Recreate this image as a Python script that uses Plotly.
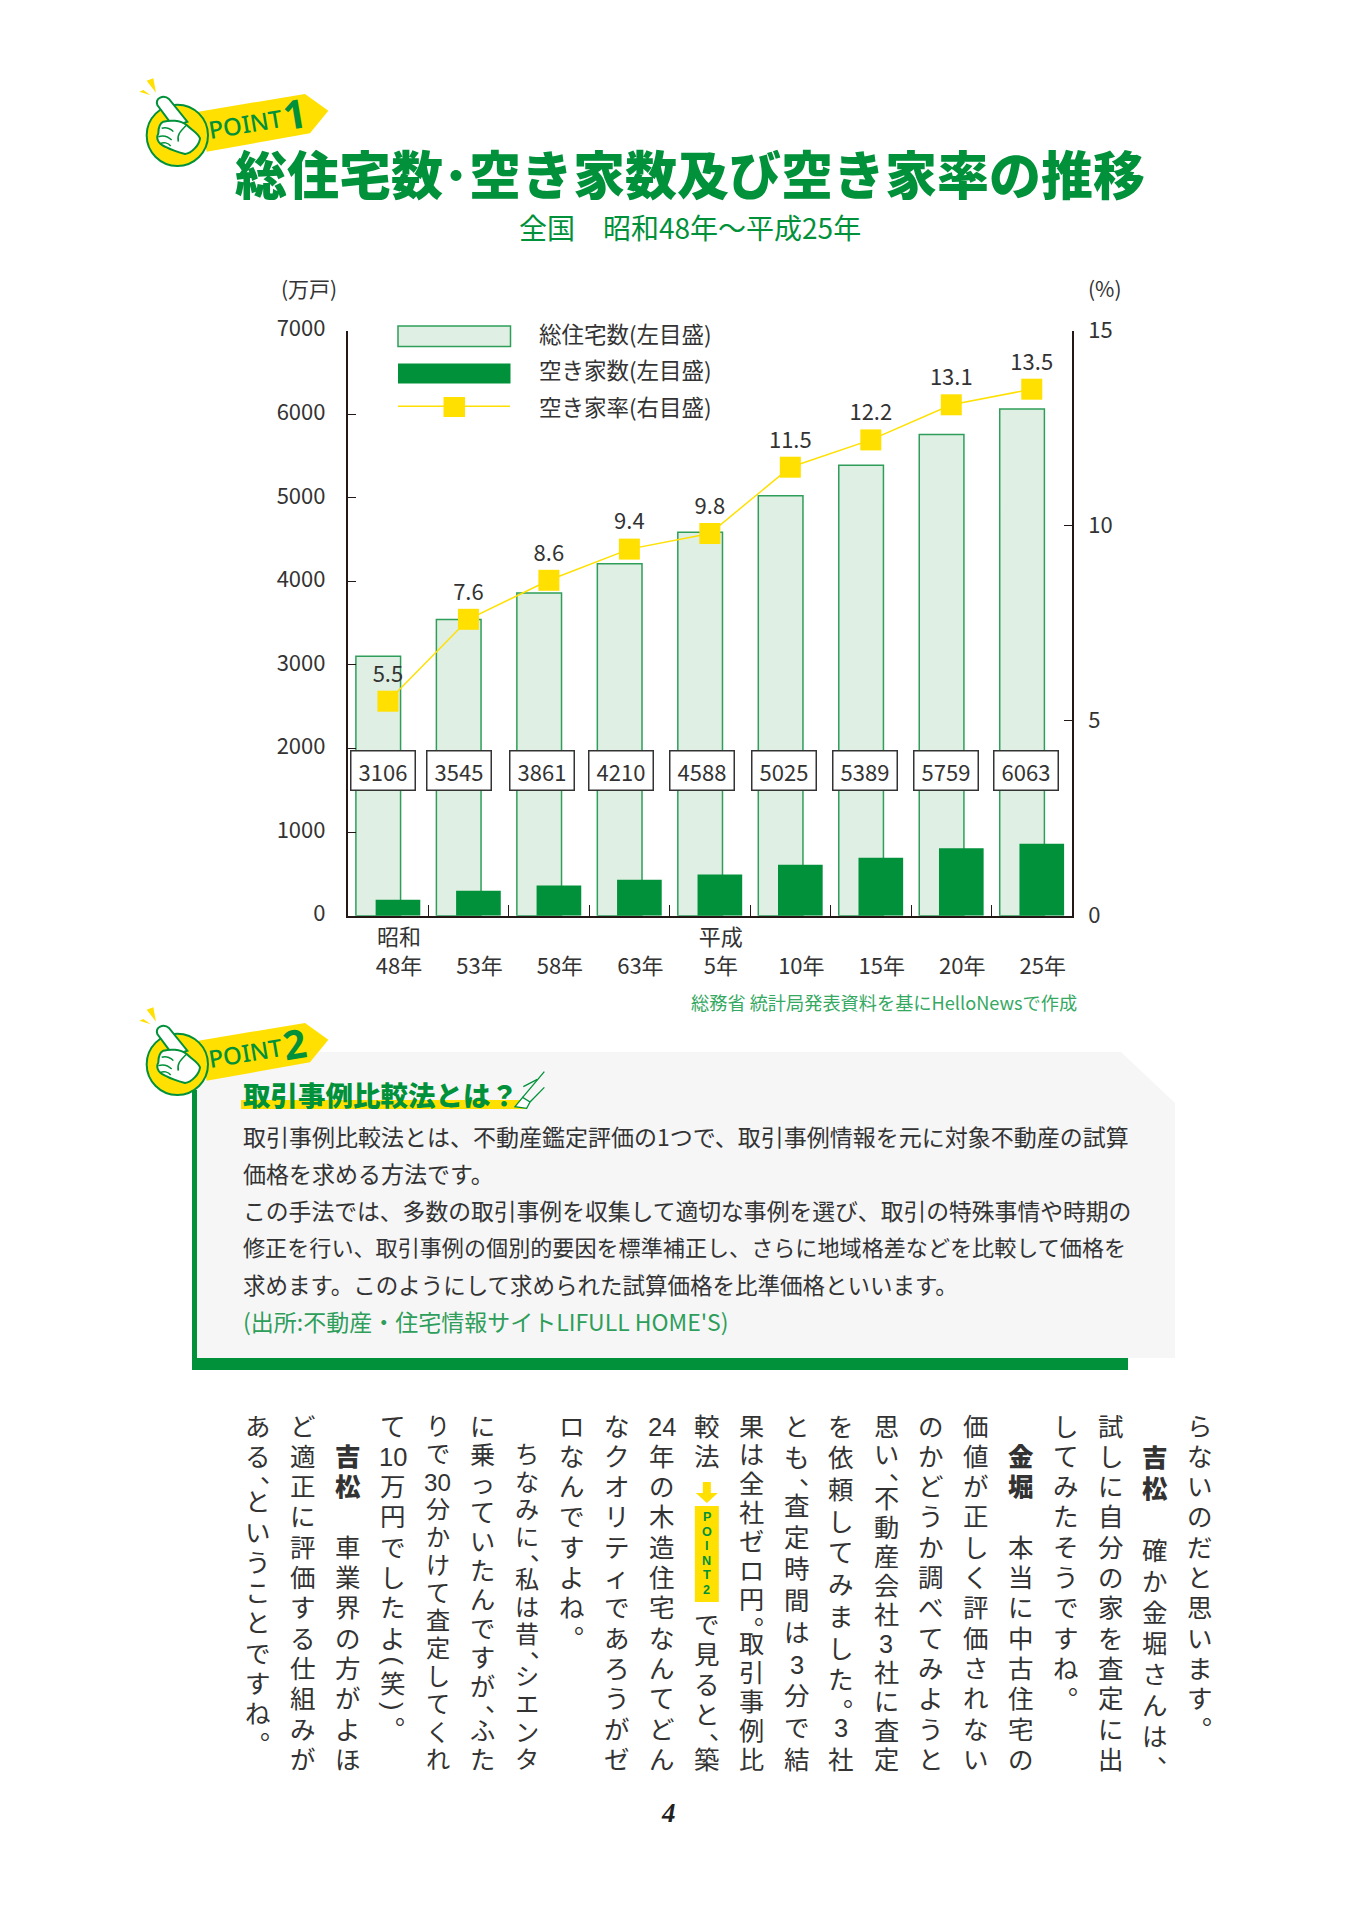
import re
import plotly.graph_objects as go

W, H = 1360, 1920
FONT = "Noto Sans CJK JP"
COLUMN_FONT = "'Liberation Sans', 'Noto Sans CJK JP'"
GREEN = "#00913A"
SOFT_GREEN = "#2E9E5A"
LIGHT = "#E0EFE3"
YELLOW = "#FFE000"
INK = "#333333"

# ---- chart data -------------------------------------------------------------
years = ["48年", "53年", "58年", "63年", "5年", "10年", "15年", "20年", "25年"]
eras = ["昭和", "", "", "", "平成", "", "", "", ""]
total_houses = [3106, 3545, 3861, 4210, 4588, 5025, 5389, 5759, 6063]
vacant_houses = [190, 298, 362, 430, 493, 610, 694, 808, 860]
vacancy_rate = [5.5, 7.6, 8.6, 9.4, 9.8, 11.5, 12.2, 13.1, 13.5]
left_ticks = [0, 1000, 2000, 3000, 4000, 5000, 6000, 7000]
right_ticks = [0, 5, 10, 15]
box_shift = [-4.7, -9.7, -6.5, -8, -8, -6.5, -6, -5.5, -6]

# ---- page text --------------------------------------------------------------
title = "総住宅数･空き家数及び空き家率の推移"
subtitle = "全国　昭和48年〜平成25年"
source = "総務省 統計局発表資料を基にHelloNewsで作成"
legend_labels = ["総住宅数(左目盛)", "空き家数(左目盛)", "空き家率(右目盛)"]
heading = "取引事例比較法とは？"
body_lines = [
    ("取引事例比較法とは、不動産鑑定評価の1つで、取引事例情報を元に対象不動産の試算", 1136, 23.0),
    ("価格を求める方法です。", 1173, 23.0),
    ("この手法では、多数の取引事例を収集して適切な事例を選び、取引の特殊事情や時期の", 1210, 22.8),
    ("修正を行い、取引事例の個別的要因を標準補正し、さらに地域格差などを比較して価格を", 1246, 22.1),
    ("求めます。このようにして求められた試算価格を比準価格といいます。", 1284, 22.5),
]
citation = "(出所:不動産・住宅情報サイトLIFULL HOME'S)"
columns = [
    "らないのだと思います。",
    "　吉松　確か金堀さんは、",
    "試しに自分の家を査定に出",
    "してみたそうですね。",
    "　金堀　本当に中古住宅の",
    "価値が正しく評価されない",
    "のかどうか調べてみようと",
    "思い、不動産会社3社に査定",
    "を依頼してみました。3社",
    "とも、査定時間は3分で結",
    "果は全社ゼロ円。取引事例比",
    "較法|で見ると、築",
    "24年の木造住宅なんてどん",
    "なクオリティであろうがゼ",
    "ロなんですよね。",
    "　ちなみに、私は昔、シエンタ",
    "に乗っていたんですが、ふた",
    "りで30分かけて査定してくれ",
    "て10万円でしたよ(笑)。",
    "　吉松　車業界の方がよほ",
    "ど適正に評価する仕組みが",
    "ある、ということですね。",
]

shapes, notes = [], []


def px(x):
    return x / W


def py(y):
    return 1 - y / H


def note(text, x, y, size, color=INK, anchor="center", weight=None, angle=0, family=FONT, style=None):
    font = dict(family=family, size=size, color=color)
    if weight:
        font["weight"] = weight
    if style:
        font["style"] = style
    notes.append(dict(text=text, xref="paper", yref="paper", x=px(x), y=py(y), showarrow=False,
                      xanchor=anchor, yanchor="middle", font=font, textangle=angle, borderpad=0))


def rect(x0, y0, x1, y1, fill, line=None, lw=0):
    shapes.append(dict(type="rect", xref="paper", yref="paper", x0=px(x0), x1=px(x1), y0=py(y0), y1=py(y1),
                       fillcolor=fill, line=dict(color=line or fill, width=lw)))


def path(s, fill=None, line=None, lw=0, dy=0, base=(130, 70), scale=3):
    vals = iter(range(10 ** 6))

    def conv(m):
        v = float(m.group(0))
        if next(vals) % 2 == 0:
            return f"{px(base[0] + v / scale):.5f}"
        return f"{py(base[1] + v / scale + dy):.5f}"

    d = re.sub(r"-?\d+\.?\d*", conv, s)
    shp = dict(type="path", xref="paper", yref="paper", path=d, line=dict(color=line or "rgba(0,0,0,0)", width=lw))
    if fill:
        shp["fillcolor"] = fill
    shapes.append(shp)


def badge(dy, number):
    path("M50 32 L70 25 L78 68 Z", YELLOW, dy=dy)
    path("M28 65 L40 60 L62 76 Z", YELLOW, dy=dy)
    path("M205 125 L525 72 L595 122 L540 190 L230 245 Z", YELLOW, dy=dy)
    shapes.append(dict(type="circle", xref="paper", yref="paper",
                       x0=px(130 + 50 / 3), x1=px(130 + 234 / 3), y0=py(70 + 104 / 3 + dy), y1=py(70 + 288 / 3 + dy),
                       fillcolor=YELLOW, line=dict(color=GREEN, width=2)))
    path("M82 105 C75 85 100 72 118 88 L172 155 L130 170 Z", "white", GREEN, 2, dy)
    path("M100 155 C120 150 150 150 170 165 C185 180 205 190 210 205 C208 225 185 250 165 252 "
         "C140 245 125 240 110 232 C90 225 75 210 85 190 C85 175 90 160 100 155 Z", "white", GREEN, 2, dy)
    for seg in ["M95 175 C110 170 125 178 130 185", "M85 200 C100 195 115 200 125 210",
                "M90 222 C100 215 115 218 122 228", "M170 165 C150 185 140 195 145 215"]:
        path(seg, None, GREEN, 1.5, dy)
    note("POINT", 245.5, 123 + dy, 24, GREEN, family="Noto Sans", weight=500, angle=-9.5)
    note(number, 294, 114 + dy, 40, GREEN, family="Noto Sans", weight=700, angle=-9.5)


# ---- grey panel -------------------------------------------------------------
path("M197 1052 L1121 1052 L1175 1103 L1175 1358 L197 1358 Z", "#F6F6F7", base=(0, 0), scale=1)
rect(192, 1090, 197, 1370, GREEN)
rect(192, 1358, 1128, 1370, GREEN)
rect(241, 1100, 527, 1109, YELLOW)
badge(0, "1")
badge(929, "2")
path("M1155 320 L1178 292 L1200 306 L1190 325 Z", "white", GREEN, 1.3, dy=930)
for seg in ["M1178 292 L1243 215", "M1200 306 L1243 262", "M1180 260 L1222 238"]:
    path(seg, None, GREEN, 1.3, dy=930)

# ---- headings ---------------------------------------------------------------
note(title, 690, 173, 52, GREEN, "center", 900)
note(subtitle, 690, 227, 28, GREEN)
note("(万戸)", 309, 288, 21)
note("(%)", 1105, 288, 21)
note(source, 884, 1002, 18.2, "#35A862")
note(heading, 242, 1094, 27.5, GREEN, "left", 900)

# ---- legend swatches --------------------------------------------------------
rect(398, 326, 510.5, 346.5, LIGHT, SOFT_GREEN, 1.5)
rect(398, 363.5, 510.5, 383.5, GREEN)
path("M398 406.3 L510 406.3", None, YELLOW, 1.5, base=(0, 0), scale=1)
rect(443.5, 397, 465, 417, YELLOW)
for lab, y in zip(legend_labels, [332.5, 369.2, 405.8]):
    note(lab, 538, y, 22.5, anchor="left")

# ---- body copy --------------------------------------------------------------
for line, y, size in body_lines:
    note(line, 242, y, size, anchor="left")
note(citation, 242, 1321, 23, SOFT_GREEN, "left")

# ---- vertical column copy ---------------------------------------------------
COL_X0, COL_STEP = 1200.3, 44.86
ROW_Y0, ROW_STEP = 1426.5, 30.3
GAP_UNITS = 4.6
for c, text in enumerate(columns):
    xc = COL_X0 - c * COL_STEP
    tokens = re.findall(r"\d+|.", text)
    placed, cursor = [], 0.0
    for i, tok in enumerate(tokens):
        if tok == "|":
            cursor += GAP_UNITS
        elif tok in "、。()":
            placed.append((i, tok, cursor + 0.25 - 0.5))
            cursor += 0.5
        else:
            placed.append((i, tok, cursor))
            cursor += 1
    last = placed[-1][2]
    k = 11 / last if last >= 10.4 else 1
    size = min(25.5, k * ROW_STEP / 1.15)
    for i, tok, u in placed:
        if tok == "　":
            continue
        y = ROW_Y0 + u * k * ROW_STEP
        bold = text[0] == "　" and i in (1, 2) and text[1:3] in ("吉松", "金堀")
        if tok in "、。":
            note(tok, xc + 15, y - 7, size, family=COLUMN_FONT)
        elif tok in "()":
            note(tok, xc, y, size, angle=90, family=COLUMN_FONT)
        else:
            note(tok, xc, y, size, weight=900 if bold else None, family=COLUMN_FONT)

# POINT2 marker inside the text column
mx = COL_X0 - 11 * COL_STEP
rect(mx - 12, 1506, mx + 12, 1602, YELLOW)
path(f"M{mx-4} 1482 L{mx+4} 1482 L{mx+4} 1493 L{mx+11} 1493 L{mx} 1503 L{mx-11} 1493 L{mx-4} 1493 Z",
     YELLOW, base=(0, 0), scale=1)
for ch, y in zip("POINT2", [1517, 1531.5, 1546, 1560.5, 1575, 1589.5]):
    note(ch, mx, y, 12.6, GREEN, family="Liberation Sans", weight=700)
note("4", 668, 1813, 27, "#222222", family="Liberation Serif", weight=700, style="italic")

# ---- value boxes ------------------------------------------------------------
for i, (v, sh) in enumerate(zip(total_houses, box_shift)):
    notes.append(dict(text=str(v), xref="x", yref="y", x=i, y=1740, xshift=sh, showarrow=False,
                      width=63, height=38, borderpad=0, borderwidth=1.5, bordercolor=INK, bgcolor="white",
                      align="center", valign="middle", font=dict(family=FONT, size=22, color=INK)))

# ---- traces -----------------------------------------------------------------
ticktext = [f"{e or '&nbsp;'}<br>{y}" for e, y in zip(eras, years)]
fig = go.Figure()
fig.add_bar(x=years, y=total_houses, offset=-0.398, width=0.555, marker=dict(color=LIGHT, line=dict(color=SOFT_GREEN, width=1.5)))
fig.add_bar(x=years, y=vacant_houses, offset=-0.153, width=0.555, marker=dict(color=GREEN, line=dict(width=0)))
fig.add_scatter(x=years, y=vacancy_rate, yaxis="y2", mode="lines+markers+text",
                line=dict(color=YELLOW, width=1.5), marker=dict(symbol="square", size=21, color=YELLOW),
                text=[str(v) for v in vacancy_rate], textposition="top center",
                textfont=dict(family=FONT, size=22, color=INK), cliponaxis=False)

axis_line = dict(showline=True, linecolor="#231815", linewidth=1.6, showgrid=False, zeroline=False, automargin=False)
fig.update_layout(
    width=W, height=H, margin=dict(l=0, r=0, t=0, b=0, pad=0), autosize=False,
    paper_bgcolor="white", plot_bgcolor="rgba(0,0,0,0)", barmode="overlay", showlegend=False,
    font=dict(family=FONT, color=INK),
    xaxis=dict(domain=[px(347.7), px(1072)], type="category", categoryorder="array", categoryarray=years,
               range=[-0.5, 8.5], tickmode="array", tickvals=years, ticktext=ticktext, tickson="boundaries",
               ticks="inside", ticklen=11, tickwidth=1.4, tickcolor="#231815",
               tickfont=dict(family=FONT, size=22, color=INK), ticklabelshift=11, ticklabelstandoff=1,
               anchor="y", **axis_line),
    yaxis=dict(domain=[py(915.7), py(330.7)], range=[0, 7000], tickmode="array", tickvals=left_ticks,
               ticks="inside", ticklen=8, tickwidth=1.4, tickcolor="#231815", ticklabelshift=-2,
               tickfont=dict(family=FONT, size=22, color=INK), ticklabelstandoff=16, anchor="x", **axis_line),
    yaxis2=dict(domain=[py(915.7), py(330.7)], range=[0, 15], tickmode="array", tickvals=right_ticks,
                overlaying="y", side="right", ticks="inside", ticklen=8, tickwidth=1.4, tickcolor="#231815",
                tickfont=dict(family=FONT, size=22, color=INK), ticklabelstandoff=10,
                anchor="x", **axis_line),
    shapes=shapes, annotations=notes,
)
fig.write_html("out.html", config=dict(displayModeBar=False), post_script="document.body.style.margin='0';")
